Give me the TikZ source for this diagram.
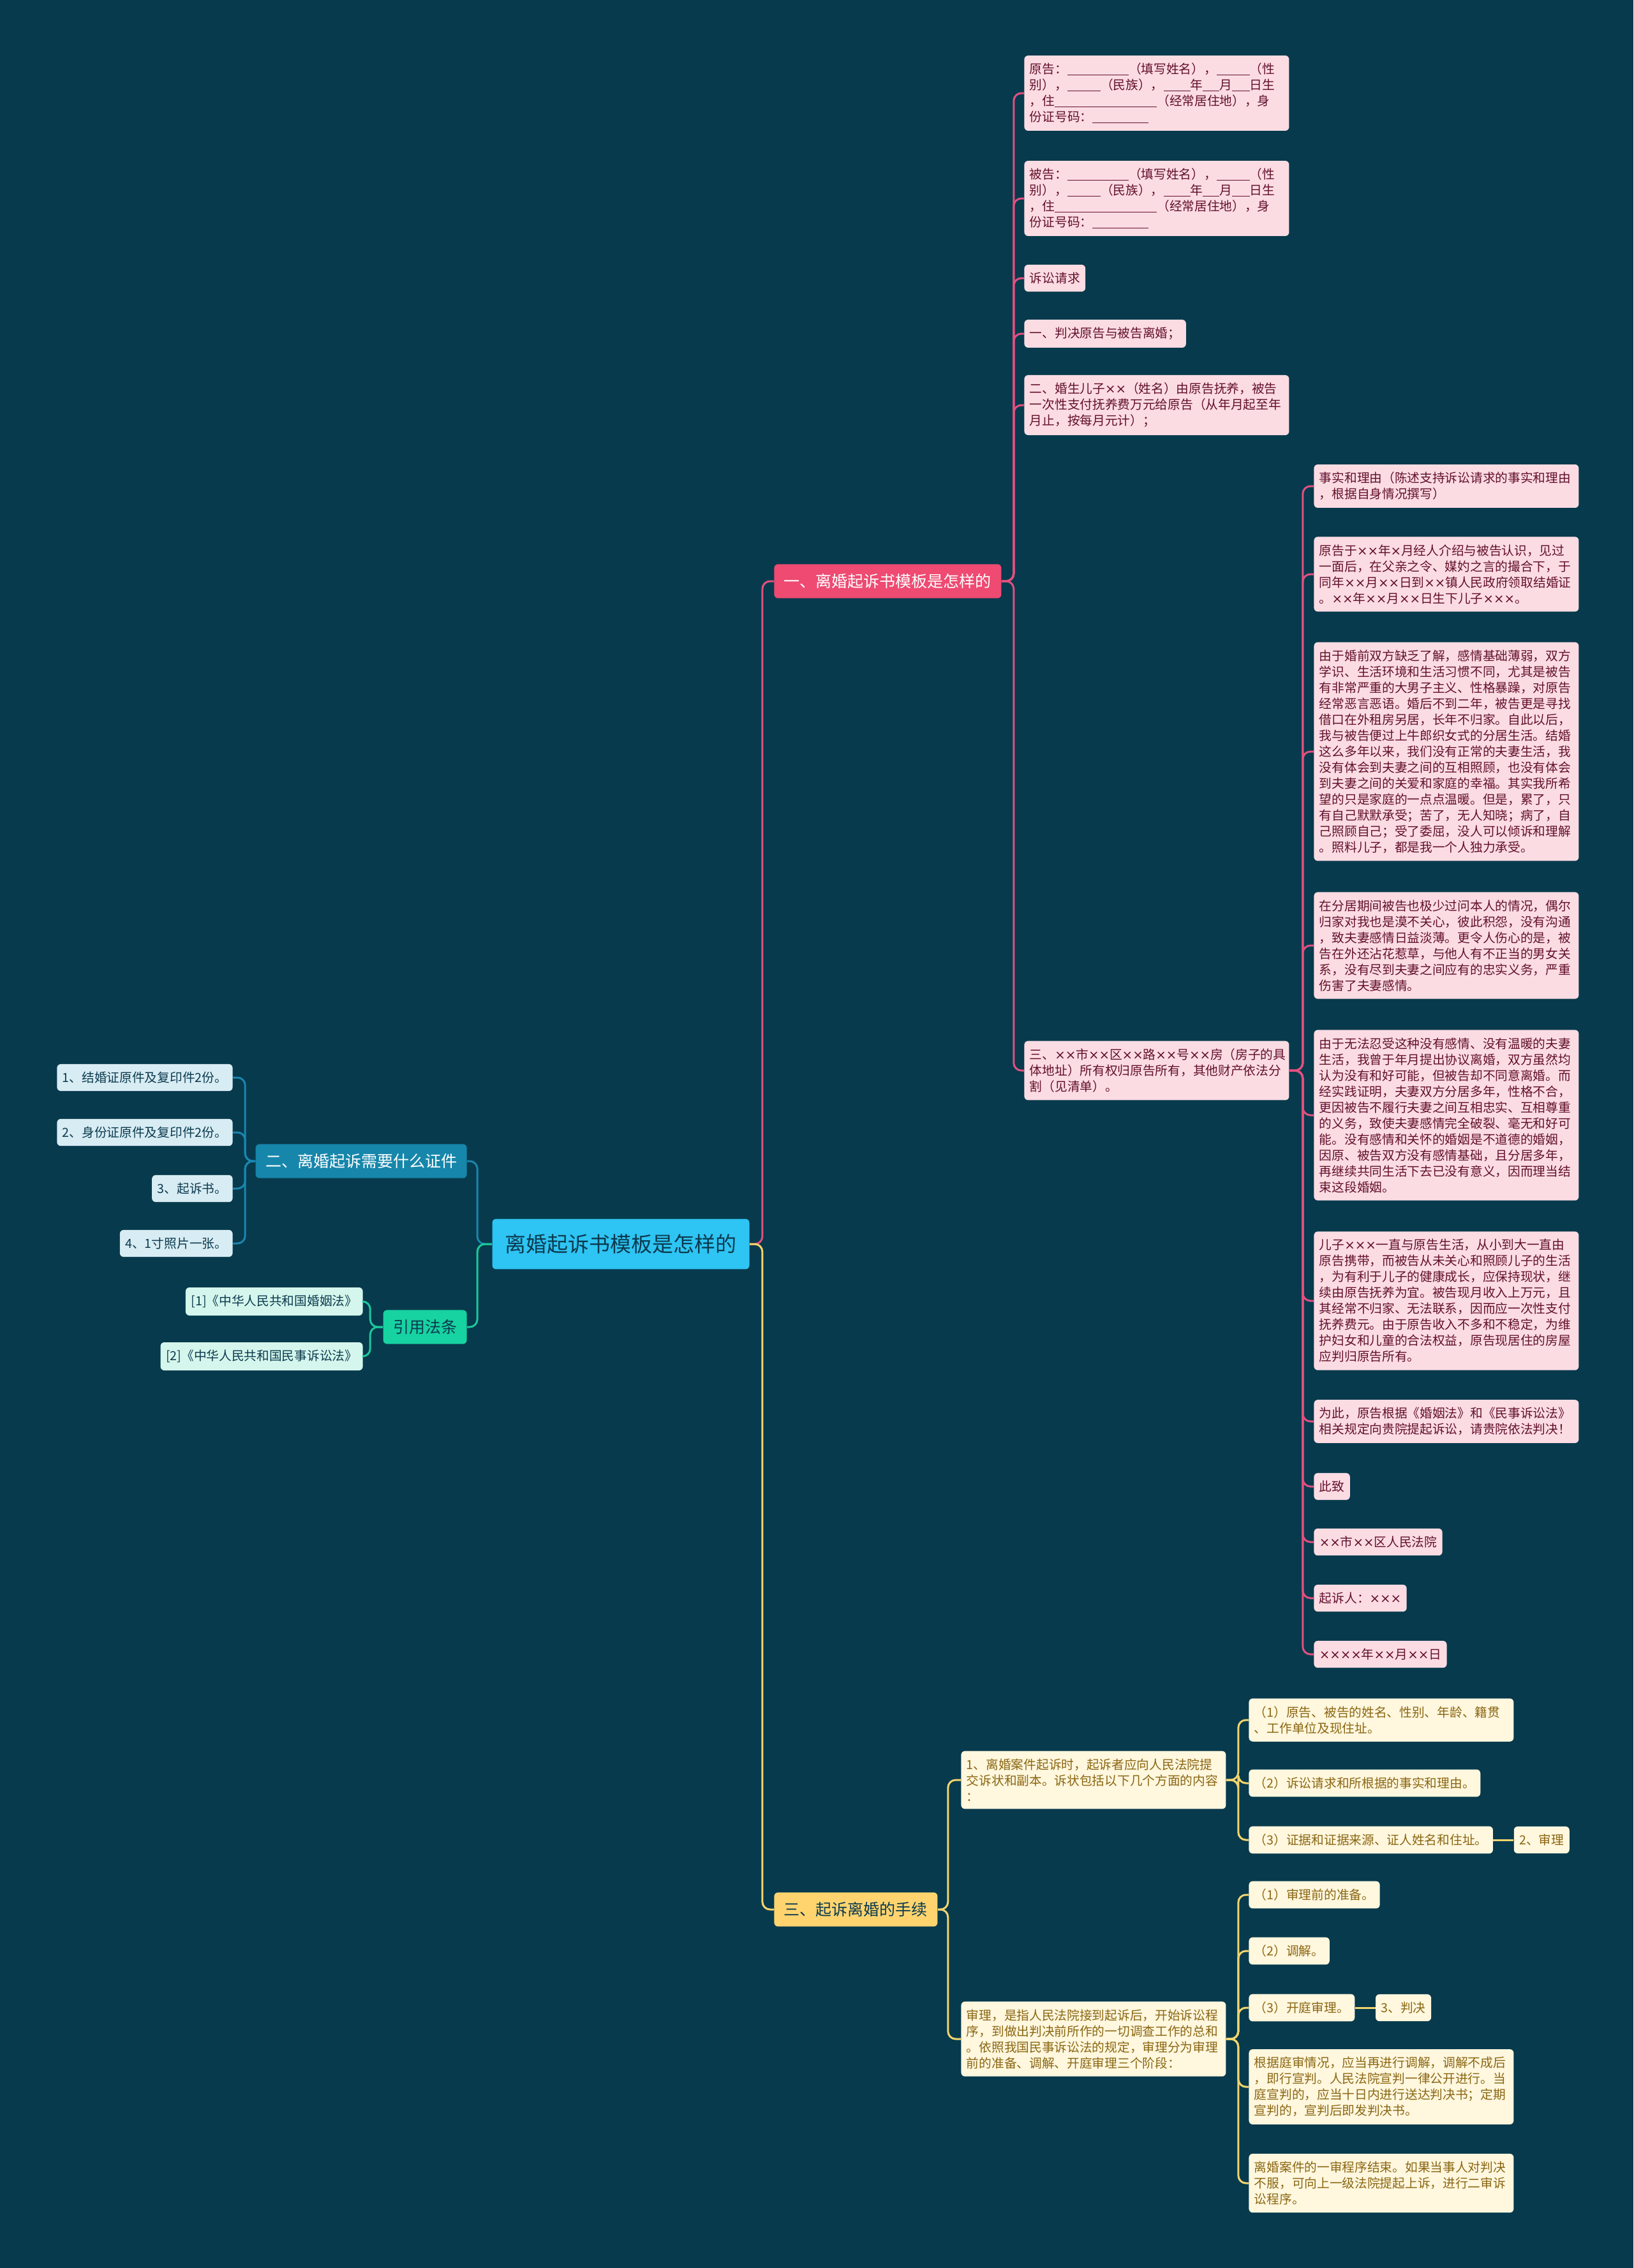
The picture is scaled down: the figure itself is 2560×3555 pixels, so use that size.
\documentclass[tikz,border=0pt]{standalone}
\usepackage{fontspec}
\setmainfont{Noto Sans CJK SC}
\newfontfamily\crossfont{DejaVu Sans}
\usepackage{tikz}
\usetikzlibrary{positioning}

\definecolor{bgcol}{HTML}{073A4D}
\definecolor{darktext}{HTML}{0B3A4E}
\definecolor{rootcol}{HTML}{2EC4F3}
\definecolor{pinkcol}{HTML}{EE4A72}
\definecolor{pinkline}{HTML}{E2507F}
\definecolor{pinkleafcol}{HTML}{FCDCE3}
\definecolor{pinktext}{HTML}{62102C}
\definecolor{bluecol}{HTML}{1786AB}
\definecolor{blueline}{HTML}{1A86AE}
\definecolor{blueleafcol}{HTML}{D8ECF3}
\definecolor{greencol}{HTML}{17D2A1}
\definecolor{greenline}{HTML}{1BC99B}
\definecolor{greenleafcol}{HTML}{D5F6EC}
\definecolor{yellowcol}{HTML}{FFD46F}
\definecolor{yellowline}{HTML}{F3D46E}
\definecolor{creamcol}{HTML}{FFF7DE}
\definecolor{creamtext}{HTML}{8A6612}

\newcommand\gapline[1]{\rule[-1pt]{#1pt}{0.7pt}}
\newcommand\tm{{\crossfont ×}}

\begin{document}
\begin{tikzpicture}[
    x=0.5pt, y=-0.5pt,
    every node/.style={rounded corners=3pt, inner xsep=4.25pt, inner ysep=6pt, font=\fontsize{9.85}{12.5}\selectfont},
    root/.style={fill=rootcol, text=darktext, font=\fontsize{16.5}{20}\selectfont, inner xsep=10pt, inner ysep=12pt},
    secbox/.style={font=\fontsize{12.5}{15}\selectfont, inner xsep=7.75pt, inner ysep=7.5pt},
    secA/.style={secbox, fill=pinkcol, text=white},
    secB/.style={secbox, fill=bluecol, text=white},
    secL/.style={secbox, fill=greencol, text=darktext},
    secC/.style={secbox, fill=yellowcol, text=darktext},
    pinkleaf/.style={fill=pinkleafcol, text=pinktext},
    blueleaf/.style={fill=blueleafcol, text=darktext},
    greenleaf/.style={fill=greenleafcol, text=darktext},
    creamleaf/.style={fill=creamcol, text=creamtext},
    wide/.style={text width=199pt, align=left},
    link/.style={line width=1.5pt, rounded corners=6pt},
    linkA/.style={link, draw=pinkline},
    linkB/.style={link, draw=blueline},
    linkL/.style={link, draw=greenline},
    linkC/.style={link, draw=yellowline},
]

\fill[bgcol] (0,0) rectangle (2560,3555);
\useasboundingbox (0,0) rectangle (2560,3555);

% root and main branches
\node[root] (root) at (973,1950) {离婚起诉书模板是怎样的};
\node[secA, anchor=west] (secA) at (1213,911) {一、离婚起诉书模板是怎样的};
\node[secB, anchor=east] (secB) at (732,1820) {二、离婚起诉需要什么证件};
\node[secL, anchor=east] (secL) at (732,2080) {引用法条};
\node[secC, anchor=west] (secC) at (1213,2993) {三、起诉离婚的手续};

% branch one, first column
\node[pinkleaf, wide, anchor=west] (plaintiff) at (1605,146) {原告：\gapline{48}（填写姓名），\gapline{26}（性\\别），\gapline{26}（民族），\gapline{21}年\gapline{13}月\gapline{14}日生\\，住\gapline{80}（经常居住地），身\\份证号码：\gapline{44}};
\node[pinkleaf, wide, anchor=west] (defendant) at (1605,311) {被告：\gapline{48}（填写姓名），\gapline{26}（性\\别），\gapline{26}（民族），\gapline{21}年\gapline{13}月\gapline{14}日生\\，住\gapline{80}（经常居住地），身\\份证号码：\gapline{44}};
\node[pinkleaf, anchor=west] (claims) at (1605,436) {诉讼请求};
\node[pinkleaf, anchor=west] (claimA) at (1605,523) {一、判决原告与被告离婚；};
\node[pinkleaf, wide, anchor=west] (claimB) at (1605,635) {二、婚生儿子\tm{}\tm{}（姓名）由原告抚养，被告\\一次性支付抚养费万元给原告（从年月起至年\\月止，按每月元计）；};
\node[pinkleaf, wide, anchor=west] (claimC) at (1605,1678) {三、\tm{}\tm{}市\tm{}\tm{}区\tm{}\tm{}路\tm{}\tm{}号\tm{}\tm{}房（房子的具\\体地址）所有权归原告所有，其他财产依法分\\割（见清单）。};

% branch one, second column
\node[pinkleaf, wide, anchor=west] (facts) at (2059,762) {事实和理由（陈述支持诉讼请求的事实和理由\\，根据自身情况撰写）};
\node[pinkleaf, wide, anchor=west] (meet) at (2059,900) {原告于\tm{}\tm{}年\tm{}月经人介绍与被告认识，见过\\一面后，在父亲之令、媒妁之言的撮合下，于\\同年\tm{}\tm{}月\tm{}\tm{}日到\tm{}\tm{}镇人民政府领取结婚证\\。\tm{}\tm{}年\tm{}\tm{}月\tm{}\tm{}日生下儿子\tm{}\tm{}\tm{}。};
\node[pinkleaf, wide, anchor=west] (apart) at (2059,1178) {由于婚前双方缺乏了解，感情基础薄弱，双方\\学识、生活环境和生活习惯不同，尤其是被告\\有非常严重的大男子主义、性格暴躁，对原告\\经常恶言恶语。婚后不到二年，被告更是寻找\\借口在外租房另居，长年不归家。自此以后，\\我与被告便过上牛郎织女式的分居生活。结婚\\这么多年以来，我们没有正常的夫妻生活，我\\没有体会到夫妻之间的互相照顾，也没有体会\\到夫妻之间的关爱和家庭的幸福。其实我所希\\望的只是家庭的一点点温暖。但是，累了，只\\有自己默默承受；苦了，无人知晓；病了，自\\己照顾自己；受了委屈，没人可以倾诉和理解\\。照料儿子，都是我一个人独力承受。};
\node[pinkleaf, wide, anchor=west] (neglect) at (2059,1482) {在分居期间被告也极少过问本人的情况，偶尔\\归家对我也是漠不关心，彼此积怨，没有沟通\\，致夫妻感情日益淡薄。更令人伤心的是，被\\告在外还沾花惹草，与他人有不正当的男女关\\系，没有尽到夫妻之间应有的忠实义务，严重\\伤害了夫妻感情。};
\node[pinkleaf, wide, anchor=west] (breakdown) at (2059,1748) {由于无法忍受这种没有感情、没有温暖的夫妻\\生活，我曾于年月提出协议离婚，双方虽然均\\认为没有和好可能，但被告却不同意离婚。而\\经实践证明，夫妻双方分居多年，性格不合，\\更因被告不履行夫妻之间互相忠实、互相尊重\\的义务，致使夫妻感情完全破裂、毫无和好可\\能。没有感情和关怀的婚姻是不道德的婚姻，\\因原、被告双方没有感情基础，且分居多年，\\再继续共同生活下去已没有意义，因而理当结\\束这段婚姻。};
\node[pinkleaf, wide, anchor=west] (custody) at (2059,2039) {儿子\tm{}\tm{}\tm{}一直与原告生活，从小到大一直由\\原告携带，而被告从未关心和照顾儿子的生活\\，为有利于儿子的健康成长，应保持现状，继\\续由原告抚养为宜。被告现月收入上万元，且\\其经常不归家、无法联系，因而应一次性支付\\抚养费元。由于原告收入不多和不稳定，为维\\护妇女和儿童的合法权益，原告现居住的房屋\\应判归原告所有。};
\node[pinkleaf, wide, anchor=west] (request) at (2059,2228) {为此，原告根据《婚姻法》和《民事诉讼法》\\相关规定向贵院提起诉讼，请贵院依法判决！};
\node[pinkleaf, anchor=west] (salute) at (2059,2330) {此致};
\node[pinkleaf, anchor=west] (court) at (2059,2417) {\tm{}\tm{}市\tm{}\tm{}区人民法院};
\node[pinkleaf, anchor=west] (suitor) at (2059,2505) {起诉人：\tm{}\tm{}\tm{}};
\node[pinkleaf, anchor=west] (date) at (2059,2593) {\tm{}\tm{}\tm{}\tm{}年\tm{}\tm{}月\tm{}\tm{}日};

% branch two
\node[blueleaf, anchor=east] (doc1) at (365,1689) {1、结婚证原件及复印件2份。};
\node[blueleaf, anchor=east] (doc2) at (365,1775) {2、身份证原件及复印件2份。};
\node[blueleaf, anchor=east] (doc3) at (365,1863) {3、起诉书。};
\node[blueleaf, anchor=east] (doc4) at (365,1949) {4、1寸照片一张。};

% cited laws
\node[greenleaf, anchor=east] (law1) at (569,2040) {[1]《中华人民共和国婚姻法》};
\node[greenleaf, anchor=east] (law2) at (569,2126) {[2]《中华人民共和国民事诉讼法》};

% branch three
\node[creamleaf, wide, anchor=west] (filing) at (1506,2790) {1、离婚案件起诉时，起诉者应向人民法院提\\交诉状和副本。诉状包括以下几个方面的内容\\：};
\node[creamleaf, wide, anchor=west] (trial) at (1506,3196) {审理，是指人民法院接到起诉后，开始诉讼程\\序，到做出判决前所作的一切调查工作的总和\\。依照我国民事诉讼法的规定，审理分为审理\\前的准备、调解、开庭审理三个阶段：};
\node[creamleaf, wide, anchor=west] (item1) at (1957,2696) {（1）原告、被告的姓名、性别、年龄、籍贯\\、工作单位及现住址。};
\node[creamleaf, anchor=west] (item2) at (1957,2795) {（2）诉讼请求和所根据的事实和理由。};
\node[creamleaf, anchor=west] (item3) at (1957,2884) {（3）证据和证据来源、证人姓名和住址。};
\node[creamleaf, right=16pt of item3] (review) {2、审理};
\node[creamleaf, anchor=west] (stage1) at (1957,2970) {（1）审理前的准备。};
\node[creamleaf, anchor=west] (stage2) at (1957,3058) {（2）调解。};
\node[creamleaf, anchor=west] (stage3) at (1957,3147) {（3）开庭审理。};
\node[creamleaf, right=16pt of stage3] (verdict) {3、判决};
\node[creamleaf, wide, anchor=west] (ruling) at (1957,3271) {根据庭审情况，应当再进行调解，调解不成后\\，即行宣判。人民法院宣判一律公开进行。当\\庭宣判的，应当十日内进行送达判决书；定期\\宣判的，宣判后即发判决书。};
\node[creamleaf, wide, anchor=west] (appeal) at (1957,3422) {离婚案件的一审程序结束。如果当事人对判决\\不服，可向上一级法院提起上诉，进行二审诉\\讼程序。};

% connectors
\draw[linkA] (root.east) -- ++(20,0) |- (secA.west);
\draw[linkC] (root.east) -- ++(20,0) |- (secC.west);
\draw[linkB] (root.west) -- ++(-23,0) |- (secB.east);
\draw[linkL] (root.west) -- ++(-23,0) |- (secL.east);

\foreach \n in {plaintiff, defendant, claims, claimA, claimB, claimC}
  \draw[linkA] (secA.east) -- ++(19,0) |- (\n.west);
\foreach \n in {facts, meet, apart, neglect, breakdown, custody, request, salute, court, suitor, date}
  \draw[linkA] (claimC.east) -- ++(21,0) |- (\n.west);

\foreach \n in {doc1, doc2, doc3, doc4}
  \draw[linkB] (secB.west) -- ++(-16,0) |- (\n.east);
\foreach \n in {law1, law2}
  \draw[linkL] (secL.west) -- ++(-20,0) |- (\n.east);

\draw[linkC] (secC.east) -- ++(16,0) |- (filing.west);
\draw[linkC] (secC.east) -- ++(16,0) |- (trial.west);
\foreach \n in {item1, item2, item3}
  \draw[linkC] (filing.east) -- ++(19,0) |- (\n.west);
\foreach \n in {stage1, stage2, stage3, ruling, appeal}
  \draw[linkC] (trial.east) -- ++(19,0) |- (\n.west);
\draw[linkC] (item3) -- (review);
\draw[linkC] (stage3) -- (verdict);

\end{tikzpicture}
\end{document}
